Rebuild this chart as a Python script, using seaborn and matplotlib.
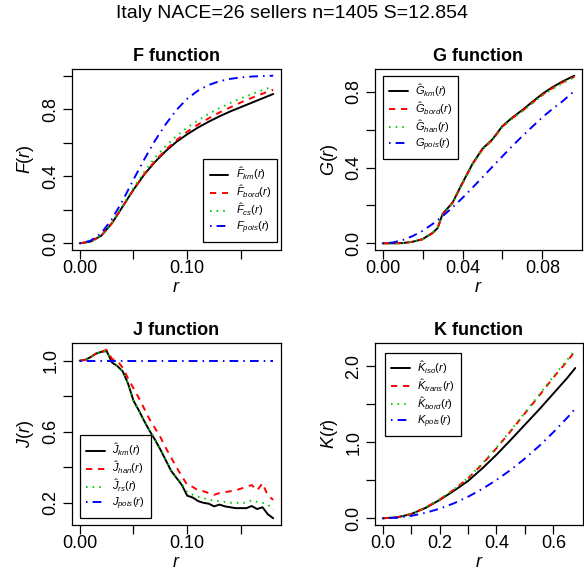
import numpy as np
import pandas as pd
import seaborn as sns
import matplotlib
matplotlib.use("Agg")
import matplotlib.pyplot as plt

# ---- data ----
title = "Italy NACE=26 sellers n=1405 S=12.854"

r_F = [0, 0.01, 0.02, 0.03, 0.04, 0.05, 0.06, 0.07, 0.08, 0.09, 0.10,
       0.11, 0.12, 0.13, 0.14, 0.15, 0.16, 0.17, 0.18]
F_km = [0, 0.01, 0.045, 0.12, 0.22, 0.32, 0.41, 0.485, 0.55, 0.605, 0.65,
        0.69, 0.725, 0.757, 0.786, 0.812, 0.838, 0.864, 0.89]
F_bord = [0, 0.01, 0.045, 0.12, 0.22, 0.32, 0.412, 0.49, 0.558, 0.615, 0.665,
          0.708, 0.745, 0.78, 0.81, 0.84, 0.867, 0.892, 0.915]
F_cs = [0, 0.01, 0.046, 0.122, 0.225, 0.33, 0.425, 0.51, 0.58, 0.64, 0.69,
        0.733, 0.772, 0.806, 0.836, 0.864, 0.889, 0.913, 0.935]
F_pois = [0, 0.015, 0.06, 0.145, 0.255, 0.38, 0.5, 0.612, 0.71, 0.795, 0.862,
          0.91, 0.944, 0.966, 0.98, 0.989, 0.994, 0.997, 0.999]

r_G = [0, 0.005, 0.01, 0.015, 0.02, 0.025, 0.0275, 0.03, 0.035, 0.04, 0.045,
       0.05, 0.055, 0.06, 0.065, 0.07, 0.075, 0.08, 0.085, 0.09, 0.096]
G_km = [0, 0, 0.001, 0.008, 0.022, 0.055, 0.08, 0.155, 0.215, 0.32, 0.42,
        0.5, 0.55, 0.62, 0.665, 0.705, 0.748, 0.79, 0.825, 0.855, 0.886]
G_bord = [0, 0, 0.001, 0.008, 0.021, 0.054, 0.079, 0.153, 0.213, 0.318, 0.418,
          0.497, 0.547, 0.617, 0.662, 0.7, 0.743, 0.785, 0.82, 0.85, 0.88]
G_han = [0, 0, 0.001, 0.008, 0.021, 0.054, 0.079, 0.153, 0.213, 0.318, 0.417,
         0.496, 0.546, 0.615, 0.66, 0.698, 0.74, 0.782, 0.816, 0.846, 0.878]
G_pois = [0, 0.004, 0.017, 0.038, 0.066, 0.102, 0.122, 0.143, 0.19, 0.24, 0.294,
          0.349, 0.405, 0.46, 0.515, 0.567, 0.617, 0.666, 0.71, 0.75, 0.805]

r_J = [0, 0.005, 0.01, 0.015, 0.02, 0.025, 0.03, 0.035, 0.04, 0.045, 0.05,
       0.055, 0.06, 0.065, 0.07, 0.075, 0.08, 0.085, 0.09, 0.095, 0.1,
       0.105, 0.11, 0.115, 0.12, 0.125, 0.13, 0.135, 0.14, 0.145, 0.15,
       0.155, 0.16, 0.165, 0.17, 0.175, 0.18]
J_km = [1.0, 1.005, 1.02, 1.04, 1.05, 1.055, 0.99, 0.97, 0.94, 0.87, 0.775,
        0.72, 0.66, 0.605, 0.555, 0.5, 0.44, 0.38, 0.34, 0.3, 0.24,
        0.23, 0.21, 0.2, 0.195, 0.18, 0.19, 0.18, 0.175, 0.17, 0.17,
        0.17, 0.182, 0.165, 0.175, 0.135, 0.113]
J_han = [1.0, 1.005, 1.02, 1.04, 1.05, 1.062, 1.01, 1.0, 0.96, 0.9, 0.845,
         0.79, 0.73, 0.67, 0.62, 0.57, 0.51, 0.455, 0.4, 0.35, 0.3,
         0.29, 0.27, 0.265, 0.255, 0.245, 0.255, 0.26, 0.265, 0.27, 0.28,
         0.29, 0.3, 0.27, 0.31, 0.24, 0.217]
J_rs = [1.0, 1.005, 1.02, 1.04, 1.05, 1.055, 0.99, 0.97, 0.94, 0.87, 0.775,
        0.72, 0.66, 0.605, 0.56, 0.505, 0.445, 0.385, 0.345, 0.305, 0.26,
        0.245, 0.235, 0.225, 0.22, 0.21, 0.21, 0.205, 0.2, 0.2, 0.2,
        0.2, 0.215, 0.205, 0.2, 0.19, 0.16]
J_pois = [1.0] * len(r_J)

r_K = [0, 0.05, 0.1, 0.15, 0.2, 0.25, 0.3, 0.35, 0.4, 0.45, 0.5, 0.55, 0.6, 0.65, 0.677]
K_iso = [0, 0.012, 0.055, 0.135, 0.24, 0.36, 0.49, 0.655, 0.835, 1.03, 1.23, 1.43, 1.64, 1.85, 1.975]
K_trans = [0, 0.012, 0.056, 0.14, 0.245, 0.375, 0.525, 0.71, 0.92, 1.145, 1.38, 1.61, 1.85, 2.07, 2.2]
K_bord = [0, 0.012, 0.057, 0.142, 0.25, 0.38, 0.53, 0.72, 0.93, 1.155, 1.39, 1.625, 1.865, 2.09, 2.215]
K_pois = [0, 0.008, 0.031, 0.071, 0.126, 0.196, 0.283, 0.385, 0.503, 0.636, 0.785, 0.95, 1.131, 1.327, 1.44]

# ---- style ----
sns.set_style("ticks")
plt.rcParams['font.family'] = ['Liberation Sans', 'DejaVu Sans']
plt.rcParams['mathtext.fontset'] = 'custom'
plt.rcParams['mathtext.rm'] = 'Liberation Sans'
plt.rcParams['mathtext.it'] = 'Liberation Sans:italic'
plt.rcParams['mathtext.bf'] = 'Liberation Sans:bold'
for k in ['text.color', 'axes.labelcolor', 'xtick.color', 'ytick.color', 'axes.edgecolor']:
    plt.rcParams[k] = 'black'

colors = ['black', '#FF0000', '#00CD00', '#0000FF']
styles = ['-', (0, (3.2, 3)), (0, (0.8, 2.6)), (0, (0.8, 2.6, 4.5, 2.6))]
LW = 1.4
FS = 13

W, H = 584, 573
fig = plt.figure(figsize=(W / 100, H / 100), dpi=100)


def px_axes(x0, y0, x1, y1):
    return fig.add_axes([x0 / W, 1 - y1 / H, (x1 - x0) / W, (y1 - y0) / H])


def panel(ax, r, series, labels, name, ylab, xt, xl, yt, yl, leg_loc, leg_anchor):
    for vals, lab, c, ls in zip(series, labels, colors, styles):
        sns.lineplot(x=r, y=vals, ax=ax, color=c, linestyle=ls, linewidth=LW,
                     label=lab, estimator=None, sort=False)
    ax.margins(x=0.04, y=0.04)
    ax.set_xticks(xt)
    ax.set_xticklabels(xl)
    ax.set_yticks(yt)
    ax.set_yticklabels(yl, rotation=90, va='center')
    ax.tick_params(axis='both', labelsize=FS, length=6.5, width=0.9, direction='out')
    ax.tick_params(axis='x', pad=1)
    ax.tick_params(axis='y', pad=2.5)
    for s in ax.spines.values():
        s.set_visible(True)
        s.set_linewidth(0.9)
        s.set_color('black')
    ax.set_title(name, fontsize=FS, fontweight='bold', pad=6)
    ax.set_xlabel(r'$r$', fontsize=FS)
    ax.xaxis.set_label_coords(0.5, -0.16)
    ax.set_ylabel(ylab, fontsize=FS)
    ax.yaxis.set_label_coords(-0.17, 0.5)
    leg = ax.legend(loc=leg_loc, bbox_to_anchor=leg_anchor, fontsize=8,
                    frameon=True, fancybox=False, edgecolor='black',
                    framealpha=1, borderaxespad=0, borderpad=0.55,
                    handlelength=1.7, handletextpad=0.65, labelspacing=0.1)
    leg.get_frame().set_linewidth(0.9)


axF = px_axes(72, 69, 281, 250)
panel(axF, r_F, [F_km, F_bord, F_cs, F_pois],
      [r'$\hat{F}_{km}(r)$', r'$\hat{F}_{bord}(r)$', r'$\hat{F}_{cs}(r)$', r'$F_{pois}(r)$'],
      'F function', r'$F(r)$',
      [0, 0.05, 0.10, 0.15], ['0.00', '', '0.10', ''],
      [0, 0.2, 0.4, 0.6, 0.8, 1.0], ['0.0', '', '0.4', '', '0.8', ''],
      'lower right', (0.981, 0.044))

axG = px_axes(375, 69, 582, 250)
panel(axG, r_G, [G_km, G_bord, G_han, G_pois],
      [r'$\hat{G}_{km}(r)$', r'$\hat{G}_{bord}(r)$', r'$\hat{G}_{han}(r)$', r'$G_{pois}(r)$'],
      'G function', r'$G(r)$',
      [0, 0.02, 0.04, 0.06, 0.08], ['0.00', '', '0.04', '', '0.08'],
      [0, 0.2, 0.4, 0.6, 0.8], ['0.0', '', '0.4', '', '0.8'],
      'upper left', (0.039, 0.961))

axJ = px_axes(72, 343, 281, 525)
panel(axJ, r_J, [J_km, J_han, J_rs, J_pois],
      [r'$\hat{J}_{km}(r)$', r'$\hat{J}_{han}(r)$', r'$\hat{J}_{rs}(r)$', r'$J_{pois}(r)$'],
      'J function', r'$J(r)$',
      [0, 0.05, 0.10, 0.15], ['0.00', '', '0.10', ''],
      [0.2, 0.4, 0.6, 0.8, 1.0], ['0.2', '', '0.6', '', '1.0'],
      'lower left', (0.038, 0.038))

axK = px_axes(375, 343, 583, 525)
panel(axK, r_K, [K_iso, K_trans, K_bord, K_pois],
      [r'$\hat{K}_{iso}(r)$', r'$\hat{K}_{trans}(r)$', r'$\hat{K}_{bord}(r)$', r'$K_{pois}(r)$'],
      'K function', r'$K(r)$',
      [0, 0.1, 0.2, 0.3, 0.4, 0.5, 0.6], ['0.0', '', '0.2', '', '0.4', '', '0.6'],
      [0, 0.5, 1.0, 1.5, 2.0], ['0.0', '', '1.0', '', '2.0'],
      'upper left', (0.048, 0.945))

fig.text(0.5, 1 - 14 / H, title, ha='center', va='center', fontsize=14)

fig.savefig('out.png', dpi=100)
